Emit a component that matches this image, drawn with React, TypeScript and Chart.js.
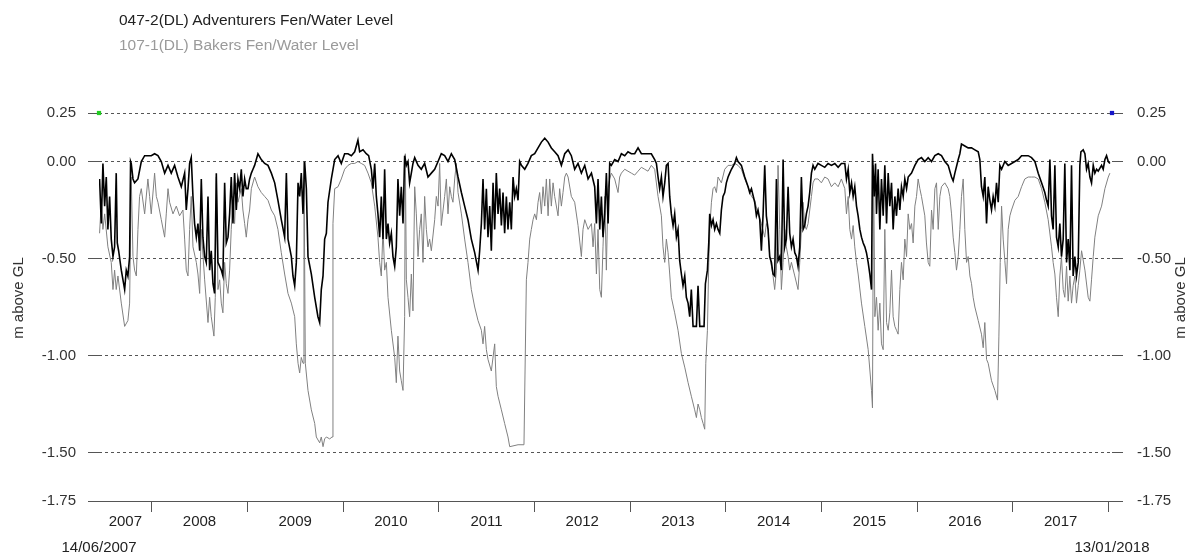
import React, { useEffect, useRef } from 'react';
import { Chart, registerables } from 'chart.js';

Chart.register(...registerables);

const FONT = '"Liberation Sans", Arial, Helvetica, sans-serif';

const seriesNames = ['047-2(DL) Adventurers Fen/Water Level', '107-1(DL) Bakers Fen/Water Level'];
const axisTitle = 'm above GL';
const startYear = 2007.45; // 14/06/2007
const endYear = 2018.036; // 13/01/2018
const dateLabels = ['14/06/2007', '13/01/2018'];
const yearBoundaries = [2008, 2009, 2010, 2011, 2012, 2013, 2014, 2015, 2016, 2017, 2018];
const yearLabels = ['2007', '2008', '2009', '2010', '2011', '2012', '2013', '2014', '2015', '2016', '2017'];
const levelTicks = [0.25, 0, -0.5, -1, -1.5, -1.75];

// [decimal year, m above GL]
const adventurersFen: [number, number][] = [
  [2007.456,-0.09],[2007.474,-0.32],[2007.491,-0.01],[2007.509,-0.23],[2007.526,-0.08],[2007.543,-0.35],[2007.561,-0.18],[2007.578,-0.40],[2007.596,-0.49],[2007.613,-0.44],[2007.630,-0.06],[2007.641,-0.42],[2007.655,-0.46],[2007.683,-0.56],[2007.718,-0.66],[2007.735,-0.56],[2007.752,-0.59],[2007.770,-0.49],[2007.780,0.00],[2007.787,-0.01],[2007.805,-0.09],[2007.822,-0.11],[2007.857,-0.09],[2007.892,0.00],[2007.927,0.03],[2007.996,0.03],
  [2008.031,0.04],[2008.066,0.03],[2008.101,0.00],[2008.136,-0.06],[2008.171,-0.02],[2008.205,-0.06],[2008.240,-0.02],[2008.275,-0.08],[2008.310,-0.13],[2008.345,-0.06],[2008.362,-0.25],[2008.380,-0.14],[2008.397,-0.01],[2008.414,0.02],[2008.432,-0.18],[2008.449,-0.32],[2008.467,-0.39],[2008.484,-0.32],[2008.502,-0.46],[2008.519,-0.09],[2008.536,-0.39],[2008.554,-0.49],[2008.571,-0.52],[2008.589,-0.18],[2008.606,-0.56],[2008.623,-0.46],[2008.641,-0.63],[2008.658,-0.68],[2008.676,-0.06],[2008.693,-0.52],[2008.728,-0.56],[2008.745,-0.59],[2008.763,-0.11],[2008.780,-0.42],[2008.798,-0.39],[2008.815,-0.27],[2008.832,-0.08],[2008.850,-0.32],[2008.867,-0.06],[2008.885,-0.25],[2008.902,-0.09],[2008.920,-0.14],[2008.937,-0.04],[2008.954,-0.18],[2008.972,-0.09],[2008.989,-0.14],
  [2009.007,-0.14],[2009.024,-0.09],[2009.042,-0.06],[2009.059,-0.04],[2009.076,-0.02],[2009.111,0.04],[2009.146,0.01],[2009.181,-0.01],[2009.216,-0.02],[2009.251,-0.06],[2009.286,-0.11],[2009.320,-0.20],[2009.355,-0.30],[2009.390,-0.39],[2009.408,-0.06],[2009.425,-0.40],[2009.460,-0.49],[2009.477,-0.59],[2009.495,-0.64],[2009.512,-0.52],[2009.530,-0.11],[2009.547,-0.18],[2009.564,-0.06],[2009.582,-0.27],[2009.599,0.00],[2009.617,-0.14],[2009.634,-0.49],[2009.669,-0.58],[2009.704,-0.70],[2009.738,-0.80],[2009.756,-0.83],[2009.773,-0.66],[2009.791,-0.59],[2009.808,-0.40],[2009.826,-0.37],[2009.843,-0.21],[2009.878,-0.09],[2009.913,0.01],[2009.948,0.03],[2009.982,-0.01],
  [2010.017,0.04],[2010.052,0.04],[2010.087,0.03],[2010.122,0.05],[2010.156,0.11],[2010.174,0.05],[2010.209,0.06],[2010.243,0.04],[2010.268,0.03],[2010.296,-0.04],[2010.313,-0.14],[2010.331,-0.01],[2010.348,-0.18],[2010.365,-0.27],[2010.383,-0.39],[2010.400,-0.18],[2010.418,-0.40],[2010.435,-0.04],[2010.453,-0.40],[2010.470,-0.32],[2010.487,-0.42],[2010.505,-0.37],[2010.522,-0.49],[2010.540,-0.54],[2010.557,-0.44],[2010.574,-0.09],[2010.592,-0.28],[2010.609,-0.13],[2010.627,-0.32],[2010.644,0.03],[2010.662,-0.02],[2010.679,0.00],[2010.696,-0.11],[2010.714,-0.06],[2010.731,-0.01],[2010.749,0.02],[2010.784,-0.02],[2010.818,-0.04],[2010.853,-0.01],[2010.888,-0.08],[2010.923,-0.06],[2010.958,-0.04],[2010.993,0.00],
  [2011.027,0.04],[2011.062,0.03],[2011.097,0.00],[2011.132,0.04],[2011.167,0.01],[2011.202,-0.08],[2011.237,-0.16],[2011.271,-0.23],[2011.306,-0.30],[2011.341,-0.40],[2011.376,-0.47],[2011.411,-0.56],[2011.428,-0.46],[2011.446,-0.32],[2011.463,-0.09],[2011.480,-0.35],[2011.498,-0.14],[2011.515,-0.39],[2011.533,-0.23],[2011.550,-0.46],[2011.568,-0.11],[2011.585,-0.35],[2011.602,-0.06],[2011.620,-0.27],[2011.637,-0.14],[2011.655,-0.33],[2011.672,-0.16],[2011.689,-0.37],[2011.707,-0.18],[2011.724,-0.35],[2011.742,-0.21],[2011.759,-0.35],[2011.777,-0.08],[2011.794,-0.18],[2011.811,-0.14],[2011.829,-0.20],[2011.846,0.00],[2011.864,-0.02],[2011.899,-0.04],[2011.933,-0.01],[2011.968,0.03],
  [2012.003,0.04],[2012.038,0.07],[2012.073,0.10],[2012.108,0.12],[2012.143,0.10],[2012.177,0.07],[2012.212,0.05],[2012.247,0.03],[2012.282,-0.02],[2012.317,0.04],[2012.352,0.06],[2012.386,0.03],[2012.421,-0.04],[2012.456,-0.01],[2012.491,-0.06],[2012.526,-0.02],[2012.561,-0.09],[2012.596,-0.06],[2012.630,-0.13],[2012.648,-0.32],[2012.665,-0.09],[2012.683,-0.35],[2012.700,-0.18],[2012.717,-0.39],[2012.735,-0.27],[2012.752,-0.06],[2012.770,-0.32],[2012.787,-0.01],[2012.804,-0.02],[2012.839,0.01],[2012.874,0.00],[2012.909,0.04],[2012.944,0.03],[2012.978,0.05],
  [2013.013,0.04],[2013.048,0.04],[2013.083,0.07],[2013.118,0.04],[2013.153,0.04],[2013.187,0.04],[2013.222,0.04],[2013.257,0.01],[2013.275,-0.01],[2013.292,-0.08],[2013.309,-0.14],[2013.327,-0.08],[2013.344,-0.18],[2013.362,-0.11],[2013.379,-0.02],[2013.397,-0.01],[2013.414,-0.18],[2013.431,-0.27],[2013.449,-0.33],[2013.466,-0.27],[2013.484,-0.39],[2013.501,-0.35],[2013.518,-0.51],[2013.536,-0.58],[2013.553,-0.64],[2013.571,-0.59],[2013.588,-0.70],[2013.606,-0.73],[2013.623,-0.80],[2013.640,-0.66],[2013.658,-0.85],[2013.693,-0.85],[2013.710,-0.64],[2013.728,-0.85],[2013.773,-0.85],[2013.787,-0.63],[2013.808,-0.56],[2013.822,-0.42],[2013.832,-0.27],[2013.850,-0.33],[2013.867,-0.30],[2013.884,-0.35],[2013.902,-0.32],[2013.919,-0.35],[2013.937,-0.37],[2013.954,-0.25],[2013.971,-0.18],[2013.989,-0.16],
  [2014.006,-0.11],[2014.024,-0.08],[2014.041,-0.06],[2014.059,-0.04],[2014.093,-0.01],[2014.111,0.02],[2014.128,0.00],[2014.163,-0.02],[2014.198,-0.08],[2014.233,-0.13],[2014.250,-0.16],[2014.268,-0.14],[2014.302,-0.21],[2014.320,-0.28],[2014.337,-0.25],[2014.355,-0.30],[2014.372,-0.46],[2014.390,-0.27],[2014.407,-0.02],[2014.424,-0.28],[2014.442,-0.35],[2014.459,-0.49],[2014.477,-0.52],[2014.494,-0.58],[2014.511,-0.59],[2014.529,-0.09],[2014.546,-0.51],[2014.564,-0.49],[2014.581,-0.56],[2014.599,0.01],[2014.616,-0.44],[2014.633,-0.40],[2014.651,-0.13],[2014.668,-0.37],[2014.686,-0.44],[2014.703,-0.40],[2014.721,-0.47],[2014.738,-0.49],[2014.755,-0.54],[2014.773,-0.44],[2014.790,-0.08],[2014.808,-0.35],[2014.825,-0.33],[2014.842,-0.27],[2014.860,-0.23],[2014.877,-0.16],[2014.895,-0.06],[2014.912,-0.02],[2014.930,-0.04],[2014.964,-0.01],[2014.999,-0.02],
  [2015.034,-0.03],[2015.069,-0.01],[2015.104,-0.02],[2015.139,-0.01],[2015.174,-0.03],[2015.208,-0.01],[2015.244,-0.01],[2015.261,-0.09],[2015.279,-0.04],[2015.296,-0.16],[2015.314,-0.11],[2015.331,-0.18],[2015.348,-0.13],[2015.366,-0.23],[2015.383,-0.28],[2015.401,-0.35],[2015.418,-0.39],[2015.436,-0.42],[2015.453,-0.44],[2015.470,-0.47],[2015.488,-0.52],[2015.505,-0.58],[2015.523,-0.66],[2015.533,0.04],[2015.551,-0.18],[2015.565,-0.01],[2015.575,-0.27],[2015.592,-0.04],[2015.610,-0.35],[2015.627,-0.09],[2015.645,-0.28],[2015.662,-0.02],[2015.680,-0.32],[2015.697,-0.06],[2015.714,-0.23],[2015.732,-0.11],[2015.749,-0.35],[2015.767,-0.18],[2015.784,-0.28],[2015.801,-0.14],[2015.819,-0.25],[2015.836,-0.13],[2015.854,-0.18],[2015.871,-0.09],[2015.889,-0.14],[2015.906,-0.08],[2015.941,-0.06],[2015.976,-0.02],
  [2016.010,0.01],[2016.045,0.02],[2016.080,0.00],[2016.115,0.02],[2016.150,0.00],[2016.185,0.03],[2016.220,0.04],[2016.254,0.03],[2016.289,0.00],[2016.324,-0.02],[2016.359,-0.08],[2016.376,-0.10],[2016.394,-0.06],[2016.429,0.01],[2016.446,0.04],[2016.463,0.09],[2016.498,0.08],[2016.533,0.07],[2016.568,0.07],[2016.603,0.06],[2016.638,0.05],[2016.655,0.01],[2016.672,-0.13],[2016.690,-0.18],[2016.707,-0.08],[2016.725,-0.32],[2016.742,-0.13],[2016.760,-0.20],[2016.777,-0.25],[2016.794,-0.18],[2016.812,-0.23],[2016.829,-0.11],[2016.847,-0.21],[2016.864,-0.02],[2016.882,-0.04],[2016.916,0.00],[2016.951,-0.02],[2016.986,-0.01],
  [2017.021,0.00],[2017.056,0.01],[2017.091,0.03],[2017.125,0.03],[2017.160,0.03],[2017.195,0.02],[2017.230,0.00],[2017.265,-0.06],[2017.300,-0.11],[2017.334,-0.16],[2017.352,-0.20],[2017.369,-0.23],[2017.387,0.01],[2017.404,-0.28],[2017.421,-0.35],[2017.439,-0.02],[2017.456,-0.39],[2017.474,-0.44],[2017.491,-0.32],[2017.508,-0.49],[2017.526,-0.40],[2017.543,-0.01],[2017.561,-0.52],[2017.578,-0.40],[2017.596,-0.56],[2017.613,-0.02],[2017.630,-0.59],[2017.648,-0.49],[2017.665,-0.59],[2017.683,-0.52],[2017.700,-0.02],[2017.711,0.05],[2017.735,0.06],[2017.753,0.04],[2017.770,-0.04],[2017.787,-0.01],[2017.805,-0.08],[2017.822,-0.11],[2017.840,-0.02],[2017.857,-0.06],[2017.875,-0.04],[2017.892,-0.05],[2017.927,-0.02],[2017.944,-0.04],[2017.962,0.01],[2017.979,0.03],[2017.997,0.00],[2018.014,-0.01]
];

const bakersFen: [number, number][] = [
  [2007.456,-0.37],[2007.474,-0.21],[2007.491,-0.35],[2007.509,-0.27],[2007.543,-0.44],[2007.578,-0.52],[2007.596,-0.66],[2007.613,-0.56],[2007.630,-0.66],[2007.648,-0.59],[2007.683,-0.73],[2007.718,-0.85],[2007.752,-0.82],[2007.770,-0.73],[2007.787,-0.08],[2007.805,-0.49],[2007.822,-0.56],[2007.840,-0.59],[2007.857,-0.35],[2007.874,-0.18],[2007.892,-0.14],[2007.927,-0.27],[2007.961,-0.09],[2007.979,-0.18],[2007.996,-0.27],
  [2008.031,-0.06],[2008.049,-0.18],[2008.066,-0.21],[2008.101,-0.30],[2008.136,-0.39],[2008.153,-0.27],[2008.171,-0.14],[2008.188,-0.21],[2008.223,-0.27],[2008.258,-0.23],[2008.292,-0.28],[2008.327,-0.25],[2008.345,-0.40],[2008.362,-0.56],[2008.380,-0.59],[2008.397,-0.35],[2008.414,-0.18],[2008.432,-0.44],[2008.467,-0.52],[2008.484,-0.58],[2008.502,-0.68],[2008.519,-0.35],[2008.554,-0.61],[2008.589,-0.83],[2008.606,-0.70],[2008.623,-0.80],[2008.651,-0.90],[2008.665,-0.70],[2008.676,-0.08],[2008.693,-0.66],[2008.711,-0.61],[2008.728,-0.73],[2008.745,-0.78],[2008.763,-0.52],[2008.780,-0.63],[2008.798,-0.68],[2008.815,-0.56],[2008.832,-0.35],[2008.850,-0.18],[2008.867,-0.32],[2008.885,-0.11],[2008.902,-0.21],[2008.937,-0.14],[2008.954,-0.25],[2008.972,-0.32],[2008.989,-0.39],
  [2009.007,-0.30],[2009.024,-0.25],[2009.042,-0.14],[2009.076,-0.08],[2009.111,-0.13],[2009.146,-0.16],[2009.181,-0.18],[2009.216,-0.20],[2009.251,-0.25],[2009.286,-0.28],[2009.320,-0.35],[2009.355,-0.47],[2009.390,-0.58],[2009.425,-0.68],[2009.460,-0.73],[2009.495,-0.80],[2009.512,-0.94],[2009.530,-1.04],[2009.547,-1.09],[2009.564,-1.01],[2009.582,-1.04],[2009.592,0.00],[2009.606,-1.04],[2009.634,-1.18],[2009.669,-1.28],[2009.704,-1.35],[2009.721,-1.42],[2009.756,-1.45],[2009.773,-1.42],[2009.791,-1.47],[2009.808,-1.43],[2009.826,-1.42],[2009.861,-1.43],[2009.885,-1.42],[2009.895,-0.32],[2009.913,-0.14],[2009.948,-0.13],[2009.982,-0.09],
  [2010.017,-0.04],[2010.052,-0.02],[2010.087,-0.01],[2010.122,-0.01],[2010.156,0.00],[2010.191,-0.01],[2010.226,-0.02],[2010.261,-0.06],[2010.296,-0.11],[2010.331,-0.23],[2010.365,-0.39],[2010.383,-0.52],[2010.400,-0.59],[2010.418,-0.35],[2010.435,-0.56],[2010.453,-0.52],[2010.470,-0.70],[2010.505,-0.87],[2010.540,-1.01],[2010.557,-1.14],[2010.574,-0.90],[2010.592,-1.08],[2010.609,-1.13],[2010.627,-1.18],[2010.644,-0.80],[2010.651,0.04],[2010.662,-0.61],[2010.679,-0.70],[2010.696,-0.80],[2010.714,-0.58],[2010.731,-0.77],[2010.749,-0.13],[2010.766,-0.27],[2010.784,-0.49],[2010.801,-0.35],[2010.818,-0.27],[2010.836,-0.52],[2010.853,-0.18],[2010.871,-0.35],[2010.888,-0.44],[2010.905,-0.40],[2010.923,-0.46],[2010.958,-0.30],[2010.975,-0.18],[2010.993,-0.23],
  [2011.010,-0.01],[2011.027,-0.33],[2011.062,-0.18],[2011.080,-0.09],[2011.097,-0.27],[2011.115,-0.13],[2011.132,-0.18],[2011.149,-0.21],[2011.167,-0.09],[2011.184,-0.01],[2011.202,-0.16],[2011.237,-0.27],[2011.271,-0.40],[2011.306,-0.52],[2011.341,-0.66],[2011.376,-0.75],[2011.411,-0.82],[2011.446,-0.87],[2011.463,-0.94],[2011.480,-0.85],[2011.498,-0.97],[2011.515,-1.02],[2011.550,-1.08],[2011.585,-0.94],[2011.602,-1.16],[2011.620,-1.21],[2011.655,-1.28],[2011.689,-1.35],[2011.724,-1.42],[2011.742,-1.47],[2011.829,-1.46],[2011.891,-1.46],[2011.916,-0.61],[2011.933,-0.52],[2011.951,-0.40],[2011.968,-0.35],[2011.986,-0.30],
  [2012.003,-0.27],[2012.021,-0.30],[2012.038,-0.21],[2012.055,-0.16],[2012.073,-0.27],[2012.090,-0.13],[2012.108,-0.23],[2012.125,-0.09],[2012.143,-0.28],[2012.160,-0.09],[2012.177,-0.23],[2012.195,-0.11],[2012.212,-0.18],[2012.247,-0.28],[2012.264,-0.14],[2012.282,-0.23],[2012.299,-0.16],[2012.317,-0.08],[2012.334,-0.06],[2012.352,-0.08],[2012.386,-0.18],[2012.421,-0.21],[2012.456,-0.33],[2012.491,-0.49],[2012.508,-0.35],[2012.526,-0.30],[2012.561,-0.35],[2012.596,-0.32],[2012.613,-0.44],[2012.630,-0.32],[2012.648,-0.58],[2012.665,-0.35],[2012.683,-0.66],[2012.700,-0.70],[2012.717,-0.44],[2012.735,-0.18],[2012.752,-0.56],[2012.770,-0.14],[2012.787,-0.09],[2012.804,-0.06],[2012.839,-0.09],[2012.874,-0.16],[2012.891,-0.08],[2012.909,-0.06],[2012.944,-0.04],[2012.978,-0.05],
  [2013.013,-0.06],[2013.048,-0.07],[2013.083,-0.05],[2013.118,-0.03],[2013.153,-0.04],[2013.187,-0.05],[2013.222,-0.02],[2013.257,-0.04],[2013.292,-0.18],[2013.327,-0.28],[2013.344,-0.44],[2013.362,-0.52],[2013.379,-0.40],[2013.397,-0.47],[2013.414,-0.58],[2013.431,-0.70],[2013.466,-0.78],[2013.501,-0.87],[2013.536,-0.99],[2013.571,-1.06],[2013.606,-1.14],[2013.640,-1.21],[2013.675,-1.28],[2013.693,-1.32],[2013.710,-1.25],[2013.728,-1.28],[2013.745,-1.32],[2013.763,-1.35],[2013.780,-1.38],[2013.791,-1.04],[2013.808,-0.87],[2013.822,-0.52],[2013.836,-0.32],[2013.850,-0.21],[2013.867,-0.14],[2013.884,-0.13],[2013.902,-0.16],[2013.919,-0.08],[2013.954,-0.11],[2013.989,-0.04],
  [2014.024,-0.02],[2014.059,-0.02],[2014.093,-0.01],[2014.128,-0.02],[2014.163,-0.04],[2014.198,-0.09],[2014.233,-0.13],[2014.268,-0.18],[2014.302,-0.20],[2014.337,-0.27],[2014.372,-0.32],[2014.407,-0.39],[2014.424,-0.32],[2014.442,-0.35],[2014.459,-0.49],[2014.477,-0.54],[2014.494,-0.59],[2014.511,-0.66],[2014.529,-0.56],[2014.546,-0.02],[2014.564,-0.35],[2014.581,-0.66],[2014.599,-0.52],[2014.616,-0.35],[2014.633,-0.44],[2014.651,-0.49],[2014.668,-0.56],[2014.686,-0.52],[2014.721,-0.59],[2014.755,-0.66],[2014.773,-0.52],[2014.790,-0.35],[2014.808,-0.21],[2014.825,-0.33],[2014.842,-0.35],[2014.860,-0.32],[2014.895,-0.18],[2014.912,-0.11],[2014.930,-0.09],[2014.964,-0.09],[2014.999,-0.11],
  [2015.034,-0.08],[2015.069,-0.09],[2015.104,-0.13],[2015.139,-0.11],[2015.174,-0.13],[2015.208,-0.09],[2015.244,-0.14],[2015.261,-0.27],[2015.279,-0.18],[2015.296,-0.35],[2015.314,-0.40],[2015.331,-0.33],[2015.348,-0.44],[2015.366,-0.52],[2015.383,-0.58],[2015.418,-0.73],[2015.453,-0.85],[2015.488,-0.97],[2015.523,-1.18],[2015.533,-1.27],[2015.544,-0.02],[2015.558,-0.80],[2015.575,-0.70],[2015.592,-0.87],[2015.610,-0.73],[2015.627,-0.94],[2015.645,-0.97],[2015.662,-0.35],[2015.680,-0.83],[2015.697,-0.87],[2015.714,-0.78],[2015.732,-0.56],[2015.749,-0.80],[2015.767,-0.85],[2015.784,-0.87],[2015.801,-0.89],[2015.819,-0.66],[2015.836,-0.52],[2015.854,-0.61],[2015.871,-0.40],[2015.889,-0.49],[2015.906,-0.27],[2015.924,-0.35],[2015.941,-0.32],[2015.958,-0.42],[2015.976,-0.23],[2015.993,-0.18],
  [2016.010,-0.09],[2016.028,-0.14],[2016.045,-0.18],[2016.080,-0.28],[2016.097,-0.42],[2016.115,-0.52],[2016.132,-0.54],[2016.150,-0.25],[2016.167,-0.35],[2016.185,-0.14],[2016.202,-0.11],[2016.220,-0.35],[2016.237,-0.18],[2016.254,-0.13],[2016.289,-0.11],[2016.324,-0.14],[2016.341,-0.18],[2016.359,-0.27],[2016.376,-0.39],[2016.394,-0.47],[2016.411,-0.56],[2016.429,-0.49],[2016.446,-0.35],[2016.463,-0.18],[2016.481,-0.09],[2016.498,-0.35],[2016.516,-0.52],[2016.533,-0.49],[2016.551,-0.59],[2016.568,-0.63],[2016.585,-0.70],[2016.603,-0.75],[2016.638,-0.82],[2016.672,-0.89],[2016.690,-0.96],[2016.707,-0.83],[2016.725,-1.02],[2016.742,-1.04],[2016.777,-1.13],[2016.812,-1.18],[2016.840,-1.23],[2016.854,-0.90],[2016.868,-0.52],[2016.882,-0.23],[2016.899,-0.40],[2016.916,-0.51],[2016.934,-0.63],[2016.951,-0.35],[2016.969,-0.28],[2016.986,-0.25],
  [2017.021,-0.20],[2017.056,-0.18],[2017.091,-0.13],[2017.125,-0.09],[2017.160,-0.08],[2017.195,-0.08],[2017.230,-0.08],[2017.265,-0.09],[2017.300,-0.14],[2017.334,-0.21],[2017.369,-0.30],[2017.404,-0.44],[2017.421,-0.52],[2017.439,-0.58],[2017.456,-0.70],[2017.474,-0.80],[2017.491,-0.59],[2017.508,-0.49],[2017.526,-0.66],[2017.543,-0.70],[2017.561,-0.54],[2017.578,-0.72],[2017.596,-0.59],[2017.613,-0.73],[2017.630,-0.64],[2017.648,-0.59],[2017.665,-0.73],[2017.683,-0.64],[2017.700,-0.56],[2017.718,-0.46],[2017.753,-0.56],[2017.787,-0.70],[2017.805,-0.72],[2017.822,-0.61],[2017.840,-0.49],[2017.857,-0.39],[2017.892,-0.28],[2017.927,-0.23],[2017.962,-0.14],[2017.997,-0.08],[2018.014,-0.06]
];

export default function App() {
  const canvasRef = useRef<HTMLCanvasElement>(null);

  useEffect(() => {
    const canvas = canvasRef.current;
    if (!canvas) return;
    const yearMids = yearLabels.map((_, i) => {
      const a = i === 0 ? startYear : yearBoundaries[i - 1];
      const b = Math.min(yearBoundaries[i], endYear);
      return (a + b) / 2;
    });
    const tickFont = { family: FONT, size: 15 };
    const chart = new Chart(canvas, {
      type: 'line',
      data: {
        datasets: [
          {
            label: seriesNames[0],
            data: adventurersFen.map(([x, y]) => ({ x, y })),
            borderColor: '#000000',
            borderWidth: 1.6,
            pointRadius: 0,
            tension: 0,
            yAxisID: 'y',
            xAxisID: 'x',
          },
          {
            label: seriesNames[1],
            data: bakersFen.map(([x, y]) => ({ x, y })),
            borderColor: '#808080',
            borderWidth: 1,
            pointRadius: 0,
            tension: 0,
            yAxisID: 'y',
            xAxisID: 'x',
          },
          {
            label: 'start',
            data: [{ x: startYear, y: levelTicks[0] }],
            showLine: false,
            pointStyle: 'rect',
            pointRadius: 3,
            backgroundColor: '#22cc22',
            borderWidth: 0,
            clip: false,
            yAxisID: 'y',
            xAxisID: 'x',
          },
          {
            label: 'end',
            data: [{ x: endYear, y: levelTicks[0] }],
            showLine: false,
            pointStyle: 'rect',
            pointRadius: 3,
            backgroundColor: '#1515c8',
            borderWidth: 0,
            clip: false,
            yAxisID: 'y',
            xAxisID: 'x',
          },
        ],
      },
      options: {
        animation: false,
        responsive: false,
        maintainAspectRatio: false,
        layout: { padding: { top: 113, left: 0, right: 0, bottom: 0 } },
        plugins: { legend: { display: false }, tooltip: { enabled: false } },
        scales: {
          x: {
            type: 'linear',
            position: 'bottom',
            min: startYear,
            max: endYear,
            afterBuildTicks: (s: any) => { s.ticks = yearBoundaries.map((v) => ({ value: v })); },
            ticks: { display: false },
            grid: { drawOnChartArea: false, drawTicks: true, tickLength: 11, tickColor: '#555', tickWidth: 1 },
            border: { display: true, color: '#555', width: 1 },
            afterFit: (s: any) => { s.height = 12; },
          },
          xYears: {
            type: 'linear',
            position: 'bottom',
            min: startYear,
            max: endYear,
            afterBuildTicks: (s: any) => { s.ticks = yearMids.map((v) => ({ value: v })); },
            ticks: {
              autoSkip: false, maxRotation: 0, minRotation: 0, padding: 0,
              color: '#222', font: tickFont,
              callback: (_v: any, i: number) => yearLabels[i],
            },
            grid: { display: false, drawTicks: false },
            border: { display: false },
            afterFit: (s: any) => { s.height = 24; },
          },
          xDates: {
            type: 'linear',
            position: 'bottom',
            min: startYear,
            max: endYear,
            afterBuildTicks: (s: any) => { s.ticks = [startYear, endYear].map((v) => ({ value: v })); },
            ticks: {
              autoSkip: false, maxRotation: 0, minRotation: 0, padding: 2,
              color: '#222', font: tickFont,
              callback: (_v: any, i: number) => dateLabels[i],
            },
            grid: { display: false, drawTicks: false },
            border: { display: false },
            afterFit: (s: any) => { s.height = 17; },
          },
          y: {
            type: 'linear',
            position: 'left',
            min: -1.75,
            max: 0.25,
            afterBuildTicks: (s: any) => { s.ticks = levelTicks.map((v) => ({ value: v })); },
            ticks: { color: '#333', font: tickFont, padding: 12, callback: (v: any) => Number(v).toFixed(2) },
            grid: {
              drawOnChartArea: true,
              drawTicks: true,
              tickLength: 11,
              color: (c: any) => (c.tick && c.tick.value === -1.75 ? 'rgba(0,0,0,0)' : '#555'),
              tickColor: '#555',
              lineWidth: 1,
              tickBorderDash: [],
            },
            border: { display: false, dash: [3, 3] },
            afterFit: (s: any) => { s.width = 99; },
          },
          yRight: {
            type: 'linear',
            position: 'right',
            min: -1.75,
            max: 0.25,
            afterBuildTicks: (s: any) => { s.ticks = levelTicks.map((v) => ({ value: v })); },
            ticks: { color: '#333', font: tickFont, padding: 14, callback: (v: any) => Number(v).toFixed(2) },
            grid: { drawOnChartArea: false, drawTicks: true, tickLength: 11, tickColor: '#555' },
            border: { display: false },
            afterFit: (s: any) => { s.width = 82; },
          },
        },
      },
    } as any);
    return () => chart.destroy();
  }, []);

  const titleStyle: React.CSSProperties = {
    position: 'absolute',
    width: 120,
    height: 18,
    lineHeight: '18px',
    fontSize: 15,
    color: '#333',
    textAlign: 'center',
    transform: 'rotate(-90deg)',
    whiteSpace: 'nowrap',
  };

  return (
    <div style={{ position: 'fixed', left: 0, top: 0, width: 1194, height: 554, background: '#fff', fontFamily: FONT, overflow: 'hidden' }}>
      <canvas ref={canvasRef} width={1194} height={554} style={{ position: 'absolute', left: 0, top: 0, width: 1194, height: 554 }} />
      <div style={{ position: 'absolute', left: 119, top: 11, fontSize: 15.5, lineHeight: '18px', color: '#222', whiteSpace: 'nowrap' }}>{seriesNames[0]}</div>
      <div style={{ position: 'absolute', left: 119, top: 36, fontSize: 15.5, lineHeight: '18px', color: '#9a9a9a', whiteSpace: 'nowrap' }}>{seriesNames[1]}</div>
      <div style={{ ...titleStyle, left: 18 - 60, top: 298 - 9 }}>{axisTitle}</div>
      <div style={{ ...titleStyle, left: 1180 - 60, top: 298 - 9 }}>{axisTitle}</div>
    </div>
  );
}
